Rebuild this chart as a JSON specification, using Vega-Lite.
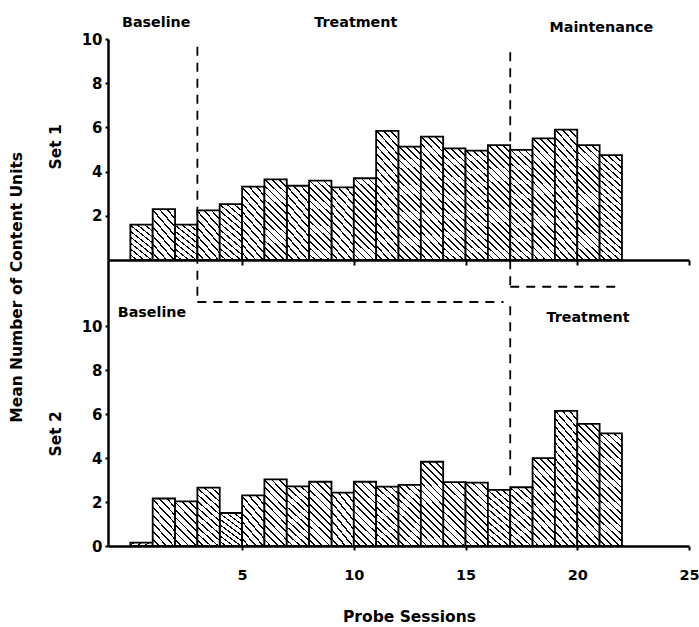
{
  "$schema": "https://vega.github.io/schema/vega-lite/v6.json",
  "padding": {"left": 10, "top": 15, "right": 0, "bottom": 0},
  "bounds": "flush",
  "spacing": 0,
  "background": "white",
  "title": {"text": "Mean Number of Content Units", "orient": "left", "anchor": "middle", "font": "DejaVu Sans", "fontSize": 15.5, "fontWeight": "bold", "color": "#000", "offset": 23, "dx": 33},
  "datasets": {
    "set1": [
      {"a": 0, "b": 1, "v": 1.6}, {"a": 1, "b": 2, "v": 2.3}, {"a": 2, "b": 3, "v": 1.6}, {"a": 3, "b": 4, "v": 2.25},
      {"a": 4, "b": 5, "v": 2.53}, {"a": 5, "b": 6, "v": 3.32}, {"a": 6, "b": 7, "v": 3.65}, {"a": 7, "b": 8, "v": 3.36},
      {"a": 8, "b": 9, "v": 3.59}, {"a": 9, "b": 10, "v": 3.29}, {"a": 10, "b": 11, "v": 3.7}, {"a": 11, "b": 12, "v": 5.84},
      {"a": 12, "b": 13, "v": 5.13}, {"a": 13, "b": 14, "v": 5.58}, {"a": 14, "b": 15, "v": 5.05}, {"a": 15, "b": 16, "v": 4.95},
      {"a": 16, "b": 17, "v": 5.2}, {"a": 17, "b": 18, "v": 4.98}, {"a": 18, "b": 19, "v": 5.5}, {"a": 19, "b": 20, "v": 5.9},
      {"a": 20, "b": 21, "v": 5.2}, {"a": 21, "b": 22, "v": 4.75}
    ],
    "set2": [
      {"a": 0, "b": 1, "v": 0.15}, {"a": 1, "b": 2, "v": 2.16}, {"a": 2, "b": 3, "v": 2.03}, {"a": 3, "b": 4, "v": 2.65},
      {"a": 4, "b": 5, "v": 1.5}, {"a": 5, "b": 6, "v": 2.3}, {"a": 6, "b": 7, "v": 3.03}, {"a": 7, "b": 8, "v": 2.71},
      {"a": 8, "b": 9, "v": 2.92}, {"a": 9, "b": 10, "v": 2.43}, {"a": 10, "b": 11, "v": 2.92}, {"a": 11, "b": 12, "v": 2.7},
      {"a": 12, "b": 13, "v": 2.78}, {"a": 13, "b": 14, "v": 3.83}, {"a": 14, "b": 15, "v": 2.9}, {"a": 15, "b": 16, "v": 2.88},
      {"a": 16, "b": 17, "v": 2.55}, {"a": 17, "b": 18, "v": 2.67}, {"a": 18, "b": 19, "v": 3.99}, {"a": 19, "b": 20, "v": 6.14},
      {"a": 20, "b": 21, "v": 5.55}, {"a": 21, "b": 22, "v": 5.12}
    ],
    "lines1": [
      {"a": 3, "b": 3, "v": 9.65, "v2": -1.9},
      {"a": 3, "b": 16.7, "v": -1.9, "v2": -1.9},
      {"a": 17, "b": 17, "v": 9.4, "v2": -1.21},
      {"a": 17, "b": 22, "v": -1.21, "v2": -1.21}
    ],
    "lines2": [
      {"a": 17, "b": 17, "v": 10.9, "v2": 3.0}
    ],
    "labels1": [
      {"t": "Baseline", "a": 1.16, "v": 10.56},
      {"t": "Treatment", "a": 10.09, "v": 10.56},
      {"t": "Maintenance", "a": 21.08, "v": 10.33}
    ],
    "labels2": [
      {"t": "Baseline", "a": 0.97, "v": 10.42},
      {"t": "Treatment", "a": 20.48, "v": 10.2}
    ]
  },
  "config": {
    "view": {"stroke": null},
    "axis": {"domainColor": "#000", "domainWidth": 2.5, "tickColor": "#000", "tickWidth": 2, "labelColor": "#000", "labelFont": "DejaVu Sans", "labelFontWeight": "bold", "labelFontSize": 15, "titleColor": "#000", "titleFont": "DejaVu Sans", "titleFontWeight": "bold", "titleFontSize": 15.5, "grid": false, "labelFlush": false, "labelOverlap": false},
    "style": {
      "hA": {"color": {"gradient": "linear", "x1": 1, "y1": 0, "x2": 0.3916, "y2": 1.1988, "stops": [
        {"offset": 0, "color": "#000"}, {"offset": 0.0267, "color": "#000"}, {"offset": 0.0267, "color": "#fff"},
        {"offset": 0.1111, "color": "#fff"}, {"offset": 0.1111, "color": "#000"}, {"offset": 0.1378, "color": "#000"}, {"offset": 0.1378, "color": "#fff"},
        {"offset": 0.2222, "color": "#fff"}, {"offset": 0.2222, "color": "#000"}, {"offset": 0.2489, "color": "#000"}, {"offset": 0.2489, "color": "#fff"},
        {"offset": 0.3333, "color": "#fff"}, {"offset": 0.3333, "color": "#000"}, {"offset": 0.36, "color": "#000"}, {"offset": 0.36, "color": "#fff"},
        {"offset": 0.4444, "color": "#fff"}, {"offset": 0.4444, "color": "#000"}, {"offset": 0.4711, "color": "#000"}, {"offset": 0.4711, "color": "#fff"},
        {"offset": 0.5556, "color": "#fff"}, {"offset": 0.5556, "color": "#000"}, {"offset": 0.5822, "color": "#000"}, {"offset": 0.5822, "color": "#fff"},
        {"offset": 0.6667, "color": "#fff"}, {"offset": 0.6667, "color": "#000"}, {"offset": 0.6933, "color": "#000"}, {"offset": 0.6933, "color": "#fff"},
        {"offset": 0.7778, "color": "#fff"}, {"offset": 0.7778, "color": "#000"}, {"offset": 0.8044, "color": "#000"}, {"offset": 0.8044, "color": "#fff"},
        {"offset": 0.8889, "color": "#fff"}, {"offset": 0.8889, "color": "#000"}, {"offset": 0.9156, "color": "#000"}, {"offset": 0.9156, "color": "#fff"},
        {"offset": 1, "color": "#fff"}
      ]}},
      "hB": {"color": {"gradient": "linear", "x1": 1, "y1": 0, "x2": 0.5872, "y2": 1.2017, "stops": [
        {"offset": 0, "color": "#000"}, {"offset": 0.02, "color": "#000"}, {"offset": 0.02, "color": "#fff"},
        {"offset": 0.0833, "color": "#fff"}, {"offset": 0.0833, "color": "#000"}, {"offset": 0.1033, "color": "#000"}, {"offset": 0.1033, "color": "#fff"},
        {"offset": 0.1667, "color": "#fff"}, {"offset": 0.1667, "color": "#000"}, {"offset": 0.1867, "color": "#000"}, {"offset": 0.1867, "color": "#fff"},
        {"offset": 0.25, "color": "#fff"}, {"offset": 0.25, "color": "#000"}, {"offset": 0.27, "color": "#000"}, {"offset": 0.27, "color": "#fff"},
        {"offset": 0.3333, "color": "#fff"}, {"offset": 0.3333, "color": "#000"}, {"offset": 0.3533, "color": "#000"}, {"offset": 0.3533, "color": "#fff"},
        {"offset": 0.4167, "color": "#fff"}, {"offset": 0.4167, "color": "#000"}, {"offset": 0.4367, "color": "#000"}, {"offset": 0.4367, "color": "#fff"},
        {"offset": 0.5, "color": "#fff"}, {"offset": 0.5, "color": "#000"}, {"offset": 0.52, "color": "#000"}, {"offset": 0.52, "color": "#fff"},
        {"offset": 0.5833, "color": "#fff"}, {"offset": 0.5833, "color": "#000"}, {"offset": 0.6033, "color": "#000"}, {"offset": 0.6033, "color": "#fff"},
        {"offset": 0.6667, "color": "#fff"}, {"offset": 0.6667, "color": "#000"}, {"offset": 0.6867, "color": "#000"}, {"offset": 0.6867, "color": "#fff"},
        {"offset": 0.75, "color": "#fff"}, {"offset": 0.75, "color": "#000"}, {"offset": 0.77, "color": "#000"}, {"offset": 0.77, "color": "#fff"},
        {"offset": 0.8333, "color": "#fff"}, {"offset": 0.8333, "color": "#000"}, {"offset": 0.8533, "color": "#000"}, {"offset": 0.8533, "color": "#fff"},
        {"offset": 0.9167, "color": "#fff"}, {"offset": 0.9167, "color": "#000"}, {"offset": 0.9367, "color": "#000"}, {"offset": 0.9367, "color": "#fff"},
        {"offset": 1, "color": "#fff"}
      ]}},
      "hC": {"color": {"gradient": "linear", "x1": 1, "y1": 0, "x2": 0.6795, "y2": 1.1839, "stops": [
        {"offset": 0, "color": "#000"}, {"offset": 0.016, "color": "#000"}, {"offset": 0.016, "color": "#fff"},
        {"offset": 0.0667, "color": "#fff"}, {"offset": 0.0667, "color": "#000"}, {"offset": 0.0827, "color": "#000"}, {"offset": 0.0827, "color": "#fff"},
        {"offset": 0.1333, "color": "#fff"}, {"offset": 0.1333, "color": "#000"}, {"offset": 0.1493, "color": "#000"}, {"offset": 0.1493, "color": "#fff"},
        {"offset": 0.2, "color": "#fff"}, {"offset": 0.2, "color": "#000"}, {"offset": 0.216, "color": "#000"}, {"offset": 0.216, "color": "#fff"},
        {"offset": 0.2667, "color": "#fff"}, {"offset": 0.2667, "color": "#000"}, {"offset": 0.2827, "color": "#000"}, {"offset": 0.2827, "color": "#fff"},
        {"offset": 0.3333, "color": "#fff"}, {"offset": 0.3333, "color": "#000"}, {"offset": 0.3493, "color": "#000"}, {"offset": 0.3493, "color": "#fff"},
        {"offset": 0.4, "color": "#fff"}, {"offset": 0.4, "color": "#000"}, {"offset": 0.416, "color": "#000"}, {"offset": 0.416, "color": "#fff"},
        {"offset": 0.4667, "color": "#fff"}, {"offset": 0.4667, "color": "#000"}, {"offset": 0.4827, "color": "#000"}, {"offset": 0.4827, "color": "#fff"},
        {"offset": 0.5333, "color": "#fff"}, {"offset": 0.5333, "color": "#000"}, {"offset": 0.5493, "color": "#000"}, {"offset": 0.5493, "color": "#fff"},
        {"offset": 0.6, "color": "#fff"}, {"offset": 0.6, "color": "#000"}, {"offset": 0.616, "color": "#000"}, {"offset": 0.616, "color": "#fff"},
        {"offset": 0.6667, "color": "#fff"}, {"offset": 0.6667, "color": "#000"}, {"offset": 0.6827, "color": "#000"}, {"offset": 0.6827, "color": "#fff"},
        {"offset": 0.7333, "color": "#fff"}, {"offset": 0.7333, "color": "#000"}, {"offset": 0.7493, "color": "#000"}, {"offset": 0.7493, "color": "#fff"},
        {"offset": 0.8, "color": "#fff"}, {"offset": 0.8, "color": "#000"}, {"offset": 0.816, "color": "#000"}, {"offset": 0.816, "color": "#fff"},
        {"offset": 0.8667, "color": "#fff"}, {"offset": 0.8667, "color": "#000"}, {"offset": 0.8827, "color": "#000"}, {"offset": 0.8827, "color": "#fff"},
        {"offset": 0.9333, "color": "#fff"}, {"offset": 0.9333, "color": "#000"}, {"offset": 0.9493, "color": "#000"}, {"offset": 0.9493, "color": "#fff"},
        {"offset": 1, "color": "#fff"}
      ]}},
      "hD": {"color": {"gradient": "linear", "x1": 1, "y1": 0, "x2": 0.7827, "y2": 1.1481, "stops": [
        {"offset": 0, "color": "#000"}, {"offset": 0.012, "color": "#000"}, {"offset": 0.012, "color": "#fff"},
        {"offset": 0.05, "color": "#fff"}, {"offset": 0.05, "color": "#000"}, {"offset": 0.062, "color": "#000"}, {"offset": 0.062, "color": "#fff"},
        {"offset": 0.1, "color": "#fff"}, {"offset": 0.1, "color": "#000"}, {"offset": 0.112, "color": "#000"}, {"offset": 0.112, "color": "#fff"},
        {"offset": 0.15, "color": "#fff"}, {"offset": 0.15, "color": "#000"}, {"offset": 0.162, "color": "#000"}, {"offset": 0.162, "color": "#fff"},
        {"offset": 0.2, "color": "#fff"}, {"offset": 0.2, "color": "#000"}, {"offset": 0.212, "color": "#000"}, {"offset": 0.212, "color": "#fff"},
        {"offset": 0.25, "color": "#fff"}, {"offset": 0.25, "color": "#000"}, {"offset": 0.262, "color": "#000"}, {"offset": 0.262, "color": "#fff"},
        {"offset": 0.3, "color": "#fff"}, {"offset": 0.3, "color": "#000"}, {"offset": 0.312, "color": "#000"}, {"offset": 0.312, "color": "#fff"},
        {"offset": 0.35, "color": "#fff"}, {"offset": 0.35, "color": "#000"}, {"offset": 0.362, "color": "#000"}, {"offset": 0.362, "color": "#fff"},
        {"offset": 0.4, "color": "#fff"}, {"offset": 0.4, "color": "#000"}, {"offset": 0.412, "color": "#000"}, {"offset": 0.412, "color": "#fff"},
        {"offset": 0.45, "color": "#fff"}, {"offset": 0.45, "color": "#000"}, {"offset": 0.462, "color": "#000"}, {"offset": 0.462, "color": "#fff"},
        {"offset": 0.5, "color": "#fff"}, {"offset": 0.5, "color": "#000"}, {"offset": 0.512, "color": "#000"}, {"offset": 0.512, "color": "#fff"},
        {"offset": 0.55, "color": "#fff"}, {"offset": 0.55, "color": "#000"}, {"offset": 0.562, "color": "#000"}, {"offset": 0.562, "color": "#fff"},
        {"offset": 0.6, "color": "#fff"}, {"offset": 0.6, "color": "#000"}, {"offset": 0.612, "color": "#000"}, {"offset": 0.612, "color": "#fff"},
        {"offset": 0.65, "color": "#fff"}, {"offset": 0.65, "color": "#000"}, {"offset": 0.662, "color": "#000"}, {"offset": 0.662, "color": "#fff"},
        {"offset": 0.7, "color": "#fff"}, {"offset": 0.7, "color": "#000"}, {"offset": 0.712, "color": "#000"}, {"offset": 0.712, "color": "#fff"},
        {"offset": 0.75, "color": "#fff"}, {"offset": 0.75, "color": "#000"}, {"offset": 0.762, "color": "#000"}, {"offset": 0.762, "color": "#fff"},
        {"offset": 0.8, "color": "#fff"}, {"offset": 0.8, "color": "#000"}, {"offset": 0.812, "color": "#000"}, {"offset": 0.812, "color": "#fff"},
        {"offset": 0.85, "color": "#fff"}, {"offset": 0.85, "color": "#000"}, {"offset": 0.862, "color": "#000"}, {"offset": 0.862, "color": "#fff"},
        {"offset": 0.9, "color": "#fff"}, {"offset": 0.9, "color": "#000"}, {"offset": 0.912, "color": "#000"}, {"offset": 0.912, "color": "#fff"},
        {"offset": 0.95, "color": "#fff"}, {"offset": 0.95, "color": "#000"}, {"offset": 0.962, "color": "#000"}, {"offset": 0.962, "color": "#fff"},
        {"offset": 1, "color": "#fff"}
      ]}}
    }
  },
  "vconcat": [
    {
      "width": 581,
      "height": 221,
      "encoding": {
        "x": {"field": "a", "type": "quantitative", "scale": {"domain": [-1, 25], "nice": false, "zero": false},
              "axis": {"values": [5, 10, 15, 20, 25], "labels": false, "title": null, "tickSize": 5}},
        "y": {"field": "v", "type": "quantitative", "scale": {"domain": [0, 10], "nice": false, "zero": false},
              "axis": {"values": [2, 4, 6, 8, 10], "title": "Set 1", "tickSize": 3, "labelPadding": 3, "titlePadding": 17.4, "titleY": 107.3}}
      },
      "layer": [
        {"data": {"name": "set1"}, "transform": [{"filter": "datum.v < 2.45"}],
         "mark": {"type": "bar", "style": "hA", "stroke": "#000", "strokeWidth": 1.8},
         "encoding": {"x2": {"field": "b"}, "y2": {"datum": 0}}},
        {"data": {"name": "set1"}, "transform": [{"filter": "datum.v >= 2.45 && datum.v < 3.45"}],
         "mark": {"type": "bar", "style": "hB", "stroke": "#000", "strokeWidth": 1.8},
         "encoding": {"x2": {"field": "b"}, "y2": {"datum": 0}}},
        {"data": {"name": "set1"}, "transform": [{"filter": "datum.v >= 3.45 && datum.v < 4.5"}],
         "mark": {"type": "bar", "style": "hC", "stroke": "#000", "strokeWidth": 1.8},
         "encoding": {"x2": {"field": "b"}, "y2": {"datum": 0}}},
        {"data": {"name": "set1"}, "transform": [{"filter": "datum.v >= 4.5"}],
         "mark": {"type": "bar", "style": "hD", "stroke": "#000", "strokeWidth": 1.8},
         "encoding": {"x2": {"field": "b"}, "y2": {"datum": 0}}},
        {"data": {"name": "lines1"},
         "mark": {"type": "rule", "color": "#000", "strokeWidth": 1.8, "strokeDash": [9, 7]},
         "encoding": {"x2": {"field": "b"}, "y2": {"field": "v2"}}},
        {"data": {"name": "labels1"},
         "mark": {"type": "text", "font": "DejaVu Sans", "fontSize": 14.3, "fontWeight": "bold", "color": "#000", "align": "center", "baseline": "alphabetic"},
         "encoding": {"text": {"field": "t"}}}
      ]
    },
    {
      "width": 581,
      "height": 286,
      "encoding": {
        "x": {"field": "a", "type": "quantitative", "scale": {"domain": [-1, 25], "nice": false, "zero": false},
              "axis": {"values": [5, 10, 15, 20, 25], "title": "Probe Sessions", "tickSize": 4, "labelPadding": 18, "labelFontSize": 14.5, "titlePadding": 28, "titleX": 301}},
        "y": {"field": "v", "type": "quantitative", "scale": {"domain": [0, 13], "nice": false, "zero": false},
              "axis": {"values": [0, 2, 4, 6, 8, 10], "title": "Set 2", "tickSize": 3, "labelPadding": 3, "titlePadding": 17.4, "titleY": 173.3}}
      },
      "layer": [
        {"data": {"name": "set2"}, "transform": [{"filter": "datum.v < 2.45"}],
         "mark": {"type": "bar", "style": "hA", "stroke": "#000", "strokeWidth": 1.8},
         "encoding": {"x2": {"field": "b"}, "y2": {"datum": 0}}},
        {"data": {"name": "set2"}, "transform": [{"filter": "datum.v >= 2.45 && datum.v < 3.45"}],
         "mark": {"type": "bar", "style": "hB", "stroke": "#000", "strokeWidth": 1.8},
         "encoding": {"x2": {"field": "b"}, "y2": {"datum": 0}}},
        {"data": {"name": "set2"}, "transform": [{"filter": "datum.v >= 3.45 && datum.v < 4.5"}],
         "mark": {"type": "bar", "style": "hC", "stroke": "#000", "strokeWidth": 1.8},
         "encoding": {"x2": {"field": "b"}, "y2": {"datum": 0}}},
        {"data": {"name": "set2"}, "transform": [{"filter": "datum.v >= 4.5"}],
         "mark": {"type": "bar", "style": "hD", "stroke": "#000", "strokeWidth": 1.8},
         "encoding": {"x2": {"field": "b"}, "y2": {"datum": 0}}},
        {"data": {"name": "lines2"},
         "mark": {"type": "rule", "color": "#000", "strokeWidth": 1.8, "strokeDash": [9, 7]},
         "encoding": {"x2": {"field": "b"}, "y2": {"field": "v2"}}},
        {"data": {"name": "labels2"},
         "mark": {"type": "text", "font": "DejaVu Sans", "fontSize": 14.3, "fontWeight": "bold", "color": "#000", "align": "center", "baseline": "alphabetic"},
         "encoding": {"text": {"field": "t"}}}
      ]
    }
  ]
}
